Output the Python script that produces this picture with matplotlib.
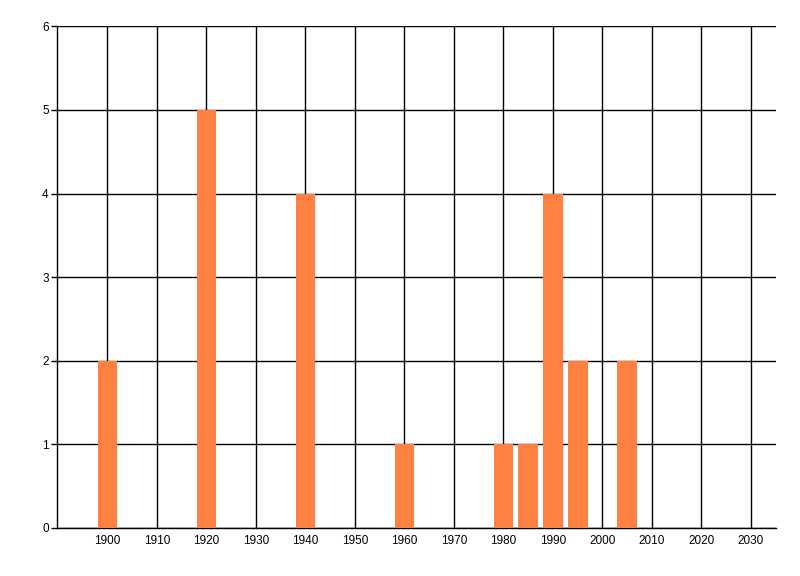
import matplotlib
matplotlib.use("Agg")
import matplotlib.pyplot as plt

# counts per year
years = [1900, 1920, 1940, 1960, 1980, 1985, 1990, 1995, 2005]
counts = [2, 5, 4, 1, 1, 1, 4, 2, 2]
x_ticks = list(range(1900, 2031, 10))
y_ticks = list(range(0, 7))

plt.rcParams['font.family'] = ['Liberation Sans', 'DejaVu Sans']

fig = plt.figure(figsize=(8, 5.76), dpi=100)
ax = fig.add_axes([57 / 800, 48 / 576, (775.7 - 57) / 800, (528 - 26.3) / 576])

ax.bar(years, counts, width=4, color='#FF8040', zorder=3)

ax.set_xlim(1889.8, 2035)
ax.set_ylim(0, 6)
ax.set_xticks(x_ticks)
ax.set_yticks(y_ticks)
ax.grid(True, color='black', linewidth=1, zorder=1)
ax.set_axisbelow(True)

for side in ['top', 'right']:
    ax.spines[side].set_visible(False)
for side in ['left', 'bottom']:
    ax.spines[side].set_linewidth(1)
    ax.spines[side].set_color('black')

ax.tick_params(axis='x', length=0, pad=5, labelsize=8.5)
ax.tick_params(axis='y', length=4, width=1, pad=2, labelsize=8.5)

fig.savefig('out.png', dpi=100)
